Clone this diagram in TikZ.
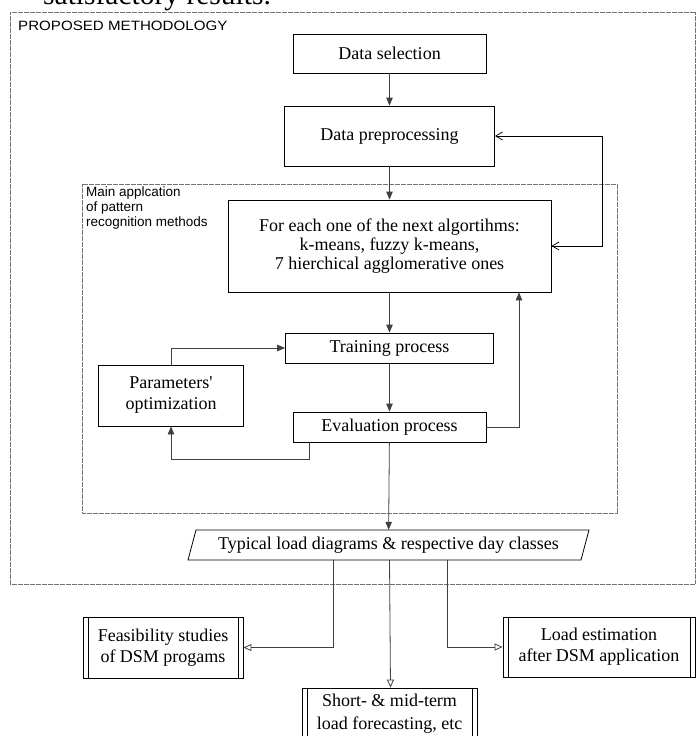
\documentclass[tikz,border=0pt]{standalone}
\usepackage{fontspec}
\setmainfont{Liberation Serif}
\newfontfamily\sansf{Liberation Sans}
\usetikzlibrary{arrows.meta,calc}
\begin{document}
\begin{tikzpicture}[x=1pt,y=-1pt,
  box/.style={draw=black,line width=0.8pt,rectangle,inner sep=0pt,align=center,
    font=\fontsize{18}{20}\selectfont},
  plain/.style={rectangle,inner sep=0pt,align=center,font=\fontsize{18}{20}\selectfont},
  frame/.style={draw=black!55,line width=0.7pt,dash pattern=on 0.7pt off 0.5pt},
  conn/.style={draw=black!75,line width=0.8pt},
  arr/.style={conn,-{Triangle[length=8pt,width=6.5pt]}},
  fb/.style={draw=black,line width=0.7pt,{Straight Barb[length=7pt,width=8pt]}-{Straight Barb[length=7pt,width=8pt]}},
  oarr/.style={conn,-{Triangle[open,length=8pt,width=7pt,fill=white]}},
  lbl/.style={inner sep=0pt,align=left,font=\sansf\fontsize{13.5}{15}\selectfont},
  inner/.style={line width=0.7pt}
]
\useasboundingbox (0,0) rectangle (696,736);
\clip (0,0) rectangle (696,736);

% cut-off heading text
\node[anchor=base west,inner sep=0pt,font=\fontsize{29.5}{30}\selectfont] (head) at (43,5) {satisfactory results.};

% frames
\draw[frame] (10,12) rectangle (695.5,584);
\draw[frame] (82,184) rectangle (617,513);
\node[lbl,anchor=base west] (plab) at (18,30) {\scalebox{1.12}[1]{PROPOSED METHODOLOGY}};
\node[lbl,anchor=north west] (mlab) at (86,186.5) {Main applcation\\of pattern\\recognition methods};

% boxes
\node[box,minimum width=193pt,minimum height=39pt] (sel) at (389.5,53.5) {Data selection};
\node[box,minimum width=210pt,minimum height=60pt] (pre) at (389.5,136) {Data preprocessing};
\node[box,minimum width=323pt,minimum height=92pt,font=\fontsize{18}{19}\selectfont] (each) at (389.5,246)
  {For each one of the next algortihms:\\k-means, fuzzy k-means,\\7 hierchical agglomerative ones};
\node[box,minimum width=208pt,minimum height=30pt] (train) at (389.5,348) {Training process};
\node[box,minimum width=145pt,minimum height=61pt,font=\fontsize{18}{21}\selectfont] (param) at (171,395.5) {Parameters\textquotesingle\\optimization};
\node[box,minimum width=193pt,minimum height=30pt] (eval) at (389.5,427) {Evaluation process};

% parallelogram
\node[plain,minimum width=394pt,minimum height=30pt] (typ) at (388.5,545) {Typical load diagrams \& respective day classes};
\draw[line width=0.8pt] (188,560) -- (196,530) -- (589,530) -- (581,560) -- cycle;

% predefined-process boxes
\node[box,minimum width=160pt,minimum height=61pt,font=\fontsize{18}{21}\selectfont] (feas) at (163,647.5) {Feasibility studies\\of DSM progams};
\node[box,minimum width=192pt,minimum height=60pt,font=\fontsize{18}{21}\selectfont] (est) at (599,647) {Load estimation\\after DSM application};
\node[box,minimum width=175pt,minimum height=52pt,font=\fontsize{18}{23}\selectfont] (short) at (389.5,714) {Short- \& mid-term\\load forecasting, etc};
\foreach \n in {feas,est,short}{
  \draw[inner] ([xshift=5.5pt]\n.north west) -- ([xshift=5.5pt]\n.south west);
  \draw[inner] ([xshift=-5.5pt]\n.north east) -- ([xshift=-5.5pt]\n.south east);
}

% connectors
\draw[arr] (sel) -- (pre);
\draw[arr] (pre) -- (each);
\draw[fb] (pre.east) -- ++(107,0) |- (each.east);
\draw[arr] (each) -- (train);
\draw[arr] (train) -- (eval);
\draw[arr] (param.north) |- (train.west);
\draw[arr] ([xshift=-80.5pt]eval.south) -- ++(0,17) -| (param.south);
\draw[arr] (eval.east) -| ([xshift=129.5pt]each.south);
\draw[arr] (eval) -- (typ);
\draw[oarr] ([xshift=-55.5pt]typ.south) |- (feas.east);
\draw[oarr] ([xshift=1pt]typ.south) -- ([xshift=1pt]short.north);
\draw[oarr] ([xshift=58.5pt]typ.south) |- (est.west);
\end{tikzpicture}
\end{document}
